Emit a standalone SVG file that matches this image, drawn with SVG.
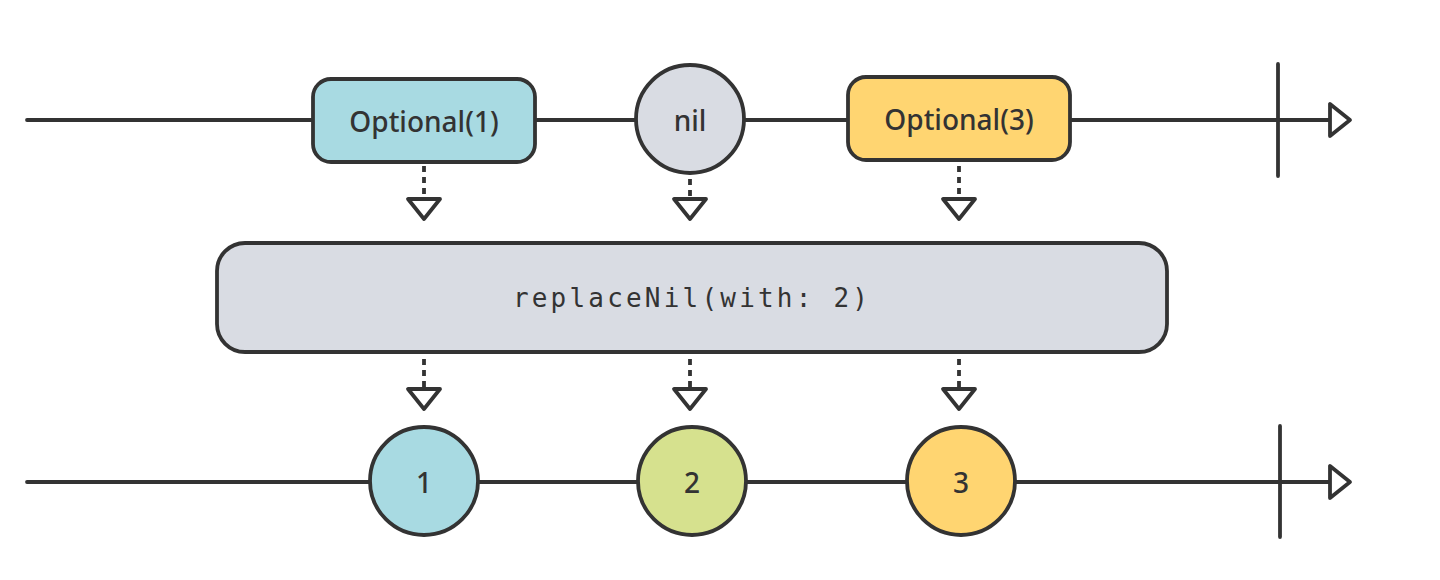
<svg xmlns="http://www.w3.org/2000/svg" width="1440" height="580" viewBox="0 0 1440 580">
<defs>
<style>
.ln{stroke:#333;stroke-width:3.8;fill:none;stroke-linecap:round}
.nd{stroke:#333;stroke-width:3.8}
.dash{stroke:#333;stroke-width:3.8;fill:none;stroke-dasharray:6 5}
.tri{stroke:#333;stroke-width:3.8;fill:#fff;stroke-linejoin:round}
.lbl{font-family:"Noto Sans","Open Sans",sans-serif;font-size:28px;font-weight:500;fill:#333;text-anchor:middle}
.code{font-family:"DejaVu Sans Mono","Liberation Mono",monospace;font-size:26px;fill:#333;text-anchor:middle;letter-spacing:3.2px}
.blue{fill:#a8dae2}.grey{fill:#d9dce3}.yellow{fill:#ffd571}.green{fill:#d6e18e}
</style>
</defs>
<g id="timelines">
<line class="ln" x1="27" y1="120" x2="1330" y2="120"/>
<line class="ln" x1="1278" y1="64" x2="1278" y2="176"/>
<polygon class="tri" points="1330,104 1330,136 1350,120"/>
<line class="ln" x1="27" y1="482" x2="1330" y2="482"/>
<line class="ln" x1="1280" y1="426" x2="1280" y2="537"/>
<polygon class="tri" points="1330,466 1330,498 1350,482"/>
</g>
<g id="connectors">
<line class="dash" x1="424" y1="166" x2="424" y2="198"/>
<polygon class="tri" points="408,199 440,199 424,219"/>
<line class="dash" x1="690" y1="179" x2="690" y2="198"/>
<polygon class="tri" points="674,199 706,199 690,219"/>
<line class="dash" x1="959" y1="166" x2="959" y2="198"/>
<polygon class="tri" points="943,199 975,199 959,219"/>
<line class="dash" x1="424" y1="359" x2="424" y2="387"/>
<polygon class="tri" points="408,389 440,389 424,409"/>
<line class="dash" x1="690" y1="359" x2="690" y2="387"/>
<polygon class="tri" points="674,389 706,389 690,409"/>
<line class="dash" x1="959" y1="359" x2="959" y2="387"/>
<polygon class="tri" points="943,389 975,389 959,409"/>
</g>
<g id="opt1">
<rect class="nd blue" x="313" y="79" width="222" height="83" rx="18"/>
<text class="lbl" x="424" y="132">Optional(1)</text>
</g>
<g id="nil">
<circle class="nd grey" cx="690" cy="119" r="54"/>
<text class="lbl" x="690" y="131">nil</text>
</g>
<g id="opt3">
<rect class="nd yellow" x="848" y="77" width="222" height="83" rx="18"/>
<text class="lbl" x="959" y="130">Optional(3)</text>
</g>
<g id="operator">
<rect class="nd grey" x="217" y="243" width="950" height="109" rx="28"/>
<text class="code" x="692" y="307">replaceNil(with: 2)</text>
</g>
<g id="out1">
<circle class="nd blue" cx="424" cy="481" r="54"/>
<text class="lbl" x="424" y="493">1</text>
</g>
<g id="out2">
<circle class="nd green" cx="692" cy="481" r="54"/>
<text class="lbl" x="692" y="493">2</text>
</g>
<g id="out3">
<circle class="nd yellow" cx="961" cy="481" r="54"/>
<text class="lbl" x="961" y="493">3</text>
</g>
</svg>
